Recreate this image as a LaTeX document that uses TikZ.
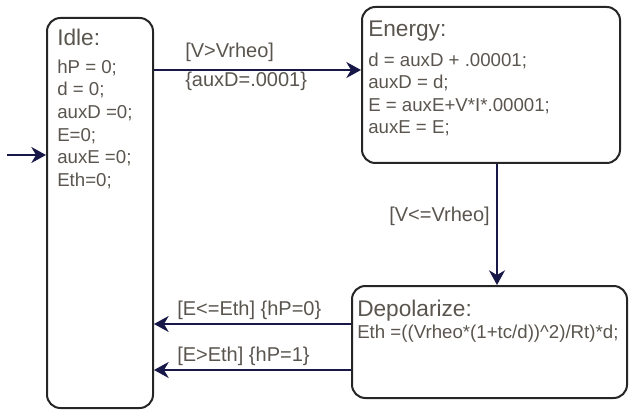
\documentclass[tikz,border=0pt]{standalone}
\usepackage{fontspec}
\setmainfont{Liberation Sans}
\usetikzlibrary{arrows.meta,fit}
\definecolor{txtgray}{RGB}{90,85,78}
\definecolor{wirenavy}{RGB}{24,24,72}

\begin{document}
\begin{tikzpicture}[x=0.75pt, y=-0.75pt,
    statebox/.style={draw=black!85, line width=1.5pt, rounded corners=10pt, inner sep=0pt},
    title/.style={anchor=base west, inner sep=0pt, text=txtgray, font=\fontsize{17}{20}\selectfont},
    body/.style={anchor=base west, inner sep=0pt, align=left, text=txtgray, font=\fontsize{14}{17}\selectfont},
    guard/.style={anchor=base west, inner sep=0pt, text=txtgray, font=\fontsize{15}{18}\selectfont},
    trans/.style={draw=wirenavy, line width=1.5pt, -{Stealth[length=11pt, width=12pt, inset=3.5pt]}}]
    \useasboundingbox (0,0) rectangle (629,410);
    % states
    \node[statebox, fit={(47,18) (153,408)}] (idle) {};
    \node[statebox, fit={(362,7) (620,163)}] (energy) {};
    \node[statebox, fit={(352,286) (627,398)}] (depol) {};
    % base of a multi-line node = last line
    \node[title] (idleT) at (57,46) {Idle:};
    \node[body] (idleB) at (57,186.5) {hP = 0;\\d = 0;\\auxD =0;\\E=0;\\auxE =0;\\Eth=0;};
    \node[title] (energyT) at (368,37) {Energy:};
    \node[body] (energyB) at (368,134) {d = auxD + .00001;\\auxD = d;\\E = auxE+V*I*.00001;\\auxE = E;};
    \node[title] (depolT) at (357,316) {Depolarize:};
    \node[body] (depolB) at (357,338) {Eth =((Vrheo*(1+tc/d))\textasciicircum2)/Rt)*d;};
    % transitions
    \coordinate (start) at (7,155);
    \coordinate (hiY) at (0,70);
    \coordinate (downX) at (497,0);
    \coordinate (loY) at (0,324);
    \coordinate (lowY) at (0,370);
    \draw[trans] (start) -- (idle.west |- start);
    \draw[trans] (idle.east |- hiY) -- (energy.west |- hiY);
    \draw[trans] (energy.south -| downX) -- (depol.north -| downX);
    \draw[trans] (depol.west |- loY) -- (idle.east |- loY);
    \draw[trans] (depol.west |- lowY) -- (idle.east |- lowY);
    % guards and actions
    \node[guard] (g1) at (185,58) {[V>Vrheo]};
    \node[guard] (a1) at (185,86.5) {\{auxD=.0001\}};
    \node[guard, anchor=base east] (g2) at (490,221.5) {[V<=Vrheo]};
    \node[guard] (g3) at (177,315) {[E<=Eth] \{hP=0\}};
    \node[guard] (g4) at (177,361.5) {[E>Eth] \{hP=1\}};
\end{tikzpicture}
\end{document}
